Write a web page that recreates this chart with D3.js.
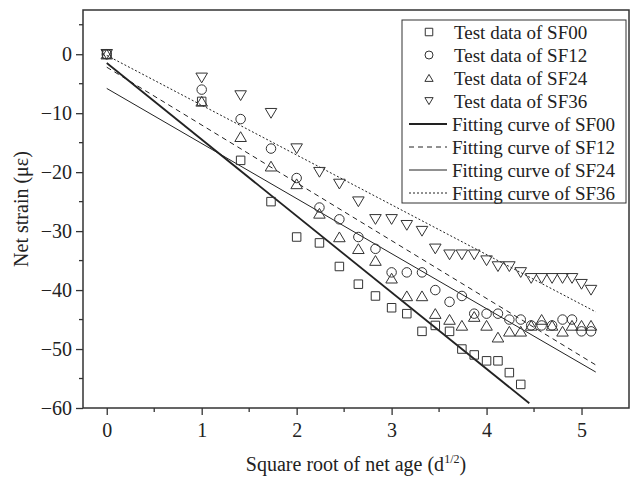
<!DOCTYPE html>
<html>
<head>
<meta charset="utf-8">
<script src="https://cdn.jsdelivr.net/npm/d3@7"></script>
<style>
  body { margin: 0; background: #fff; }
  svg text { font-family: "Liberation Serif", "Times New Roman", serif; fill: #222; }
</style>
</head>
<body>
<svg id="chart" width="633" height="479"></svg>
<script>
// sqrt of net age (d^1/2)
const ages = [0, 1, 1.41, 1.73, 2, 2.24, 2.45, 2.65, 2.83, 3, 3.16, 3.32, 3.46, 3.61,
  3.74, 3.87, 4, 4.12, 4.24, 4.36, 4.47, 4.58, 4.69, 4.80, 4.90, 5, 5.10];

const sf00 = [0, -8, -18, -25, -31, -32, -36, -39, -41, -43, -44, -47, -46, -47,
  -50, -51, -52, -52, -54, -56];
const sf12 = [0, -6, -11, -16, -21, -26, -28, -31, -33, -37, -37, -37, -40, -42,
  -41, -44, -44, -44, -45, -45, -46, -46, -46, -45, -45, -47, -47];
const sf24 = [0, -8, -14, -19, -22, -27, -31, -33, -35, -38, -41, -41, -44, -45,
  -46, -44.5, -46, -48, -47, -47, -46, -45, -46, -47, -46, -46, -46];
const sf36 = [0, -4, -7, -10, -16, -20, -22, -25, -28, -28, -29, -30, -33, -34,
  -34, -34, -35, -36, -36, -37, -38, -38, -38, -38, -38, -39, -40];

// fitting curves: start and end of each straight line
const fitX0 = [0, 0, 0, 0];
const fitX1 = [4.45, 5.15, 5.15, 5.15];
const fitY0 = [-1.5, -2.2, -5.8, -0.2];
const fitY1 = [-59.2, -52.7, -53.9, -43.7];

const seriesNames = ["SF00", "SF12", "SF24", "SF36"];
const xTicks = [0, 1, 2, 3, 4, 5];
const yTicks = [0, -10, -20, -30, -40, -50, -60];

const svg = d3.select("#chart");
const pLeft = 83, pRight = 629, pTop = 10, pBottom = 408;

const x = d3.scaleLinear().domain([-0.25, 5.5]).range([pLeft, pRight]);
const y = d3.scaleLinear().domain([-60, 7.5]).range([pBottom, pTop]);

// marker shapes
const shapes = {
  square: s => `M${-s/2},${-s/2}h${s}v${s}h${-s}Z`,
  circle: s => `M${s/2},0A${s/2},${s/2} 0 1,1 ${-s/2},0A${s/2},${s/2} 0 1,1 ${s/2},0`,
  up: s => `M0,${-s*0.48}L${s*0.55},${s*0.45}L${-s*0.55},${s*0.45}Z`,
  down: s => `M0,${s*0.48}L${s*0.55},${-s*0.45}L${-s*0.55},${-s*0.45}Z`
};
const markerOf = ["square", "circle", "up", "down"];
const dashOf = [null, "5,4", null, "2,2"];
const widthOf = [1.8, 1, 1, 1];

// fitting lines
seriesNames.forEach((n, i) => {
  svg.append("line")
    .attr("x1", x(fitX0[i])).attr("y1", y(fitY0[i]))
    .attr("x2", x(fitX1[i])).attr("y2", y(fitY1[i]))
    .attr("stroke", "#222")
    .attr("stroke-width", widthOf[i])
    .attr("stroke-dasharray", dashOf[i]);
});

// test data points
[sf00, sf12, sf24, sf36].forEach((vals, i) => {
  svg.append("g").selectAll("path")
    .data(vals)
    .enter()
    .append("path")
    .attr("transform", (d, j) => `translate(${x(ages[j])},${y(d)})`)
    .attr("d", shapes[markerOf[i]](i === 1 ? 9.5 : i === 0 ? 8.5 : 10.5))
    .attr("fill", "none")
    .attr("stroke", "#333")
    .attr("stroke-width", 1);
});

// axes
const xAxis = svg.append("g")
  .attr("transform", `translate(0,${pBottom})`)
  .call(d3.axisBottom(x).tickValues(xTicks).tickSize(7).tickPadding(8).tickFormat(d3.format("d")));
const yAxis = svg.append("g")
  .attr("transform", `translate(${pLeft},0)`)
  .call(d3.axisLeft(y).tickValues(yTicks).tickSize(7).tickPadding(4).tickFormat(d3.format("d")));
[xAxis, yAxis].forEach(g => {
  g.select(".domain").remove();
  g.selectAll("line").attr("stroke", "#333").attr("stroke-width", 1.3);
  g.selectAll("text").style("font-size", "20px").attr("fill", "#222")
    .style("font-family", "'Liberation Serif', serif");
});

// minor ticks
svg.append("g").selectAll("line")
  .data([0.5, 1.5, 2.5, 3.5, 4.5])
  .enter().append("line")
  .attr("x1", d => x(d)).attr("x2", d => x(d))
  .attr("y1", pBottom).attr("y2", pBottom + 4)
  .attr("stroke", "#333").attr("stroke-width", 1.3);
svg.append("g").selectAll("line")
  .data([5, -5, -15, -25, -35, -45, -55])
  .enter().append("line")
  .attr("y1", d => y(d)).attr("y2", d => y(d))
  .attr("x1", pLeft).attr("x2", pLeft - 4)
  .attr("stroke", "#333").attr("stroke-width", 1.3);

// frame
svg.append("rect")
  .attr("x", pLeft).attr("y", pTop)
  .attr("width", pRight - pLeft).attr("height", pBottom - pTop)
  .attr("fill", "none").attr("stroke", "#333").attr("stroke-width", 1.5);

// axis titles
const xt = svg.append("text")
  .attr("x", (pLeft + pRight) / 2).attr("y", 471)
  .attr("text-anchor", "middle")
  .style("font-size", "20px");
xt.append("tspan").text("Square root of net age (d");
xt.append("tspan").attr("dy", -8).style("font-size", "12px").text("1/2");
xt.append("tspan").attr("dy", 8).text(")");

svg.append("text")
  .attr("transform", `translate(28,${(pTop + pBottom) / 2}) rotate(-90)`)
  .attr("text-anchor", "middle")
  .style("font-size", "20px")
  .text("Net strain (\u03bc\u03b5)");

// legend
const lg = svg.append("g");
lg.append("rect")
  .attr("x", 402).attr("y", 20).attr("width", 224).attr("height", 183)
  .attr("fill", "#fff").attr("stroke", "#333").attr("stroke-width", 1);

seriesNames.forEach((n, i) => {
  const ry = 32 + 23 * i;
  lg.append("path")
    .attr("transform", `translate(429,${ry})`)
    .attr("d", shapes[markerOf[i]](i === 1 ? 8 : 7.5))
    .attr("fill", "none").attr("stroke", "#333").attr("stroke-width", 1);
  lg.append("text").attr("x", 454).attr("y", ry + 6.5)
    .style("font-size", "19px").text("Test data of " + n);
});
seriesNames.forEach((n, i) => {
  const ry = 32 + 23 * (i + 4);
  lg.append("line")
    .attr("x1", 409).attr("x2", 447).attr("y1", ry).attr("y2", ry)
    .attr("stroke", "#222").attr("stroke-width", widthOf[i])
    .attr("stroke-dasharray", dashOf[i]);
  lg.append("text").attr("x", 452).attr("y", ry + 6.5)
    .style("font-size", "19px").text("Fitting curve of " + n);
});
</script>
</body>
</html>
